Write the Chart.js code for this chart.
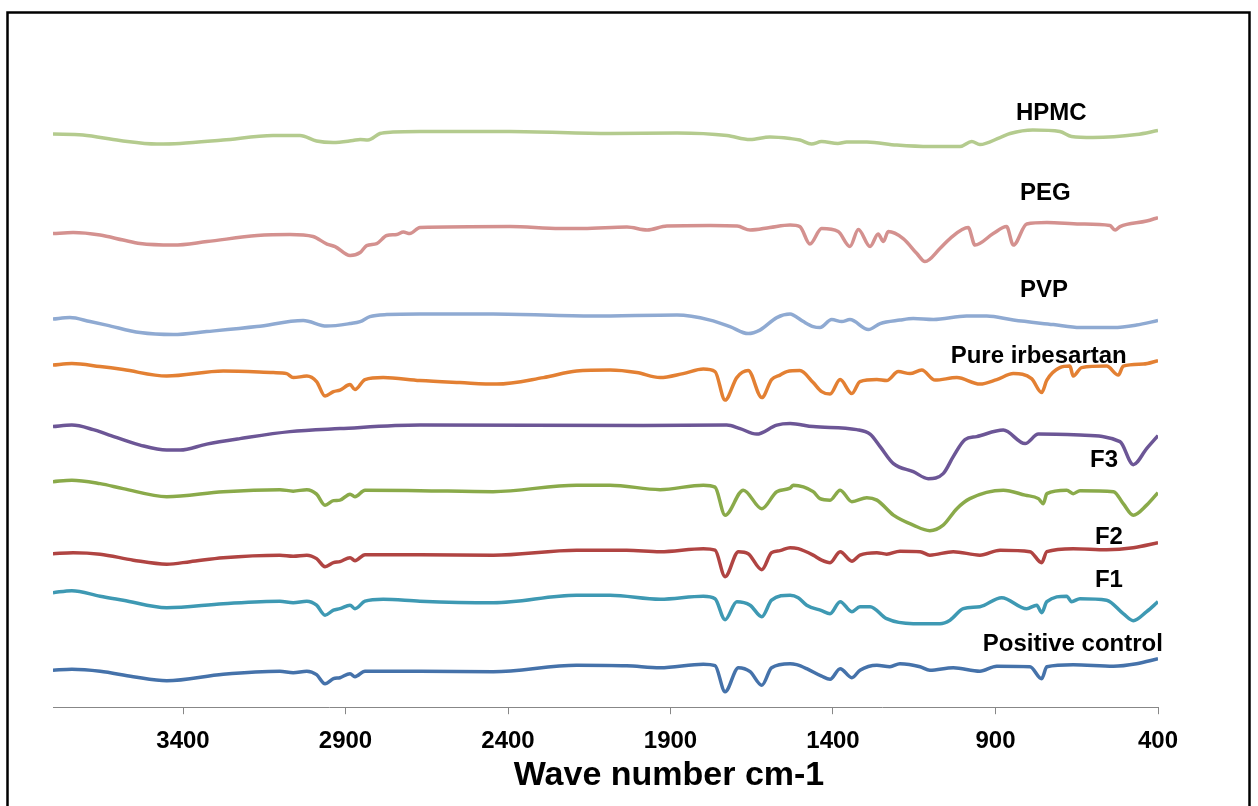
<!DOCTYPE html>
<html>
<head>
<meta charset="utf-8">
<script src="https://cdn.jsdelivr.net/npm/chart.js@4.4.0/dist/chart.umd.min.js"></script>
<style>
  body { margin: 0; background: #fff; }
  canvas { display: block; }
</style>
</head>
<body>
<canvas id="myChart" width="1258" height="806"></canvas>
<script>
const ctx = document.getElementById('myChart');

// x ticks of the reversed wave number axis
var tickValues = [3400, 2900, 2400, 1900, 1400, 900, 400];

// [wave number, offset transmittance]
var hpmc = [[3800,114.6],[3708,114.4],[3594,113.3],[3481,112.6],[3409,112.7],[3277,113.4],[3123,114.3],[3040,114.3],[2989,113.2],[2938,112.9],[2877,113.3],[2855,113.5],[2831,113.4],[2794,114.7],[2754,115.0],[2671,115.1],[2394,115.1],[2086,114.7],[1880,114.8],[1726,114.3],[1655,113.5],[1594,114.0],[1532,113.7],[1502,113.4],[1466,112.6],[1435,113.1],[1385,112.7],[1358,113.0],[1296,113.0],[1204,112.4],[1102,112.1],[1009,112.1],[973,113.1],[948,112.5],[886,113.9],[855,114.7],[785,115.4],[702,115.1],[666,114.1],[600,113.9],[466,114.5],[400,115.3]];

var peg = [[3800,94.7],[3738,94.9],[3655,94.4],[3584,93.4],[3532,92.7],[3430,92.4],[3326,93.1],[3172,94.3],[3071,94.5],[3000,94.1],[2957,92.6],[2932,92.1],[2886,90.3],[2855,90.9],[2835,92.3],[2804,92.7],[2773,94.3],[2742,94.5],[2722,95.0],[2702,94.7],[2671,95.9],[2394,96.1],[2240,95.7],[2169,95.7],[2034,96.0],[1972,95.4],[1911,96.2],[1778,96.3],[1695,96.2],[1655,95.4],[1594,95.9],[1532,96.4],[1502,96.1],[1471,92.6],[1435,95.7],[1384,95.1],[1348,92.1],[1322,95.5],[1286,92.1],[1261,94.6],[1245,93.1],[1230,95.1],[1184,93.7],[1142,90.7],[1117,89.1],[1071,91.7],[1040,93.7],[984,95.9],[963,92.4],[907,94.7],[866,96.1],[845,92.4],[804,96.6],[742,96.9],[640,96.6],[548,96.3],[532,95.4],[517,96.1],[435,97.2],[400,97.9]];

var pvp = [[3800,77.6],[3748,77.9],[3686,77.1],[3635,76.4],[3532,74.9],[3430,74.5],[3327,75.1],[3173,76.1],[3030,77.3],[2958,76.2],[2886,76.7],[2855,77.1],[2825,78.1],[2773,78.5],[2671,78.6],[2446,78.6],[2138,78.2],[1880,78.4],[1778,77.4],[1717,76.1],[1661,74.7],[1625,75.4],[1573,77.9],[1532,78.6],[1522,78.4],[1491,77.1],[1461,76.1],[1440,75.9],[1404,77.5],[1373,77.1],[1348,77.5],[1291,75.5],[1255,76.7],[1194,77.4],[1153,77.7],[1091,77.5],[989,78.2],[927,78.2],[845,77.4],[722,76.5],[640,75.9],[537,75.9],[466,76.4],[400,77.3]];

var irbesartan = [[3800,68.4],[3742,68.7],[3655,68.1],[3584,67.5],[3450,66.2],[3276,67.2],[3122,66.9],[3081,66.7],[3061,65.9],[3019,66.2],[2989,65.1],[2963,62.2],[2937,63.1],[2917,63.4],[2886,64.5],[2871,63.5],[2840,65.5],[2784,65.9],[2671,65.3],[2548,64.9],[2435,64.6],[2291,65.9],[2189,67.2],[2086,67.4],[2004,66.9],[1932,65.9],[1861,66.7],[1799,67.6],[1763,67.1],[1732,61.4],[1696,65.9],[1661,67.3],[1619,61.9],[1589,65.5],[1563,66.4],[1542,67.1],[1502,67.3],[1461,64.9],[1435,63.1],[1409,62.6],[1378,65.5],[1342,62.7],[1317,65.1],[1265,65.5],[1235,65.3],[1199,67.1],[1163,66.7],[1127,67.4],[1086,65.4],[1019,65.9],[948,64.6],[896,65.5],[845,66.7],[789,65.7],[758,62.9],[742,65.4],[702,67.9],[671,68.2],[661,66.2],[635,67.9],[558,68.2],[522,66.4],[507,68.2],[445,68.6],[400,69.3]];

var purple = [[3800,56.1],[3742,56.4],[3676,55.5],[3635,54.6],[3532,52.4],[3450,51.4],[3409,51.4],[3327,52.6],[3225,53.7],[3071,55.1],[2917,55.7],[2671,56.4],[1984,56.3],[1727,56.4],[1686,55.7],[1635,54.6],[1573,56.4],[1532,56.7],[1461,56.1],[1327,55.5],[1286,54.6],[1255,52.1],[1214,48.7],[1153,47.1],[1107,45.7],[1061,46.7],[1030,50.1],[994,53.5],[958,54.1],[876,55.4],[809,52.7],[768,54.6],[640,54.4],[517,53.1],[476,48.5],[435,51.7],[400,54.3]];

var f3 = [[3800,45.1],[3742,45.4],[3655,44.7],[3584,43.7],[3450,42.1],[3276,43.1],[3102,43.5],[3061,43.2],[3019,43.5],[2989,42.6],[2963,40.4],[2937,41.3],[2917,41.4],[2886,42.6],[2871,42.1],[2840,43.4],[2671,43.3],[2446,43.1],[2189,44.4],[2086,44.4],[1932,43.5],[1799,44.4],[1763,44.0],[1732,38.4],[1676,43.4],[1619,39.7],[1573,43.1],[1532,43.8],[1522,44.4],[1461,43.1],[1440,41.7],[1409,41.4],[1378,43.4],[1342,41.1],[1296,41.9],[1265,41.4],[1214,38.4],[1153,36.4],[1102,35.3],[1061,36.4],[1019,39.7],[979,41.7],[876,43.4],[809,42.4],[768,41.7],[753,40.7],[742,42.7],[681,43.4],[661,42.7],[640,43.3],[537,43.1],[507,40.7],[476,38.4],[435,40.4],[400,42.9]];

var f2 = [[3800,30.7],[3738,30.9],[3655,30.6],[3553,29.4],[3450,28.6],[3378,29.1],[3276,29.9],[3102,30.4],[3061,30.2],[3019,30.4],[2989,29.7],[2963,28.1],[2937,28.9],[2917,29.1],[2886,29.9],[2871,29.3],[2840,30.5],[2671,30.5],[2445,30.4],[2189,31.4],[2035,31.4],[1932,31.1],[1799,31.7],[1763,31.4],[1732,26.1],[1691,31.1],[1661,30.7],[1619,27.5],[1589,30.9],[1563,31.3],[1532,31.9],[1507,31.7],[1461,30.4],[1435,29.4],[1409,28.9],[1378,31.1],[1342,29.2],[1317,30.4],[1265,30.9],[1235,30.6],[1194,31.2],[1132,31.1],[1102,30.4],[1030,31.1],[948,30.4],[886,31.4],[794,31.1],[758,28.9],[742,31.1],[661,31.7],[558,31.5],[476,31.9],[400,32.9]];

var f1 = [[3800,22.9],[3742,23.3],[3655,22.2],[3584,21.4],[3450,19.9],[3276,20.7],[3102,21.2],[3061,20.9],[3019,21.2],[2989,20.4],[2963,18.4],[2937,19.4],[2917,19.7],[2886,20.4],[2871,19.7],[2840,21.2],[2784,21.6],[2671,21.2],[2445,20.9],[2189,22.4],[2086,22.4],[1932,21.6],[1799,22.2],[1763,21.7],[1732,17.5],[1696,21.1],[1655,20.4],[1619,18.1],[1589,21.4],[1532,22.4],[1507,21.9],[1481,20.4],[1435,19.3],[1409,18.7],[1378,21.1],[1342,19.1],[1317,20.1],[1286,20.1],[1235,17.7],[1153,16.7],[1071,16.7],[1040,17.4],[999,19.7],[948,20.1],[881,21.9],[804,19.7],[773,20.4],[758,18.9],[742,21.1],[681,22.2],[666,21.1],[640,21.7],[558,21.4],[507,18.7],[476,17.3],[435,19.1],[400,21.1]];

var positive = [[3800,7.4],[3742,7.6],[3655,7.2],[3553,6.1],[3450,5.3],[3276,6.6],[3102,7.2],[3061,6.9],[3019,7.2],[2989,6.5],[2963,4.7],[2937,5.7],[2917,5.9],[2886,6.7],[2871,6.1],[2840,7.2],[2671,7.2],[2445,7.1],[2189,8.4],[2035,8.3],[1932,7.9],[1799,8.6],[1763,8.3],[1732,3.1],[1691,7.9],[1655,7.1],[1619,4.4],[1589,7.9],[1532,8.7],[1512,8.5],[1481,7.7],[1435,6.2],[1409,5.6],[1378,7.7],[1342,5.9],[1317,7.4],[1265,8.4],[1225,8.1],[1194,8.7],[1132,8.1],[1102,7.4],[1030,7.9],[948,7.2],[896,8.2],[794,8.1],[758,5.7],[742,8.1],[661,8.5],[537,8.2],[466,8.7],[400,9.7]];

// names written beside the traces, anchored at [wave number, offset]
var labelNames = ['HPMC', 'PEG', 'PVP', 'Pure irbesartan', 'F3', 'F2', 'F1', 'Positive control'];
var labelAt = [[837,117.5],[825,101.4],[825,82],[1038,68.9],[609,48.1],[594,32.7],[594,24.1],[939,11.2]];

var seriesList = [hpmc, peg, pvp, irbesartan, purple, f3, f2, f1, positive];
var seriesNames = ['HPMC', 'PEG', 'PVP', 'Pure irbesartan', '', 'F3', 'F2', 'F1', 'Positive control'];
var colors = ['#B4CB8E', '#D4918F', '#8FAAD2', '#E38033', '#6C5696', '#8AAA4A', '#B04442', '#3E99B3', '#4572AA'];

const FONT = 'Arial, "Liberation Sans", sans-serif';

var framePlugin = {
  id: 'frame',
  beforeDraw(chart) {
    const c = chart.ctx;
    c.save();
    c.fillStyle = '#fff';
    c.fillRect(0, 0, chart.width, chart.height);
    c.restore();
  },
  afterDraw(chart) {
    const c = chart.ctx;
    c.save();
    c.strokeStyle = '#000';
    c.lineWidth = 2.5;
    c.strokeRect(7.5, 12.5, 1242, 800);
    // axis title
    c.fillStyle = '#000';
    c.font = 'bold 34px ' + FONT;
    c.textAlign = 'center';
    c.textBaseline = 'alphabetic';
    c.fillText('Wave number cm-1', 669, 785);
    c.restore();
  }
};

var labelPlugin = {
  id: 'seriesLabels',
  afterDatasetsDraw(chart) {
    const c = chart.ctx;
    const xs = chart.scales.x, ys = chart.scales.y;
    c.save();
    c.fillStyle = '#000';
    c.font = 'bold 24px ' + FONT;
    c.textAlign = 'left';
    c.textBaseline = 'alphabetic';
    labelNames.forEach(function (name, i) {
      c.fillText(name, xs.getPixelForValue(labelAt[i][0]), ys.getPixelForValue(labelAt[i][1]));
    });
    c.restore();
  }
};

var chart = new Chart(ctx, {
  type: 'line',
  data: {
    datasets: seriesList.map(function (s, i) {
      return {
        label: seriesNames[i],
        data: s.map(function (p) { return { x: p[0], y: p[1] }; }),
        borderColor: colors[i],
        backgroundColor: colors[i],
        borderWidth: 3.5,
        pointRadius: 0,
        cubicInterpolationMode: 'monotone',
        fill: false
      };
    })
  },
  options: {
    responsive: false,
    animation: false,
    layout: { padding: { left: 53, right: 100, top: 27, bottom: 37 } },
    plugins: {
      legend: { display: false },
      tooltip: { enabled: false }
    },
    scales: {
      x: {
        type: 'linear',
        reverse: true,
        min: 400,
        max: 3800,
        afterBuildTicks: function (scale) {
          scale.ticks = tickValues.map(function (v) { return { value: v }; });
        },
        ticks: {
          color: '#000',
          padding: 13,
          maxRotation: 0,
          autoSkip: false,
          font: { family: FONT, size: 24, weight: 'bold' },
          callback: function (v) { return String(v); }
        },
        grid: {
          drawOnChartArea: false,
          color: '#878787',
          tickLength: 7
        },
        border: { display: true, color: '#878787', width: 1 }
      },
      y: {
        display: false,
        min: 0,
        max: 136
      }
    }
  },
  plugins: [framePlugin, labelPlugin]
});
</script>
</body>
</html>
